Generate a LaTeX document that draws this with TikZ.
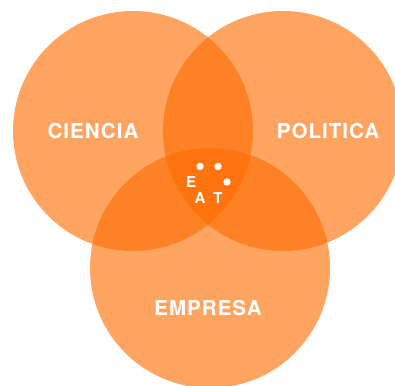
\documentclass[tikz,border=0pt]{standalone}
\usepackage{fontspec}
\usepackage{xcolor}
\usepackage{tikz}
\usetikzlibrary{calc}
\newfontfamily\labelfont{TeX Gyre Heros}[LetterSpace=5]
\newfontfamily\logofont{TeX Gyre Heros}
\definecolor{eatorange}{RGB}{255,108,0}

\begin{document}
\begin{tikzpicture}[
		x = 1pt, y = -1pt,
		area/.style  = {circle, minimum size=240pt, inner sep=0pt,
			fill=eatorange, fill opacity=0.62, text opacity=1},
		field/.style = {text=white, font=\labelfont\bfseries\fontsize{20.5}{20.5}\selectfont},
		letter/.style = {text=white, inner sep=0pt, font=\logofont\bfseries\fontsize{15}{15}\selectfont},
		dot/.style    = {circle, fill=white, inner sep=0pt, minimum size=7.4pt}
	]
	\useasboundingbox (0,0) rectangle (395,385);
	\clip (0,0) rectangle (395,385);
	% the three circles
	\node [area] (ciencia)  at (133,131) {};
	\node [area] (politica) at (283,131) {};
	\node [area] (empresa)  at (210,268) {};
	% labels
	\node [field] (ciencialabel)  at (93,131)  {CIENCIA};
	\node [field] (politicalabel) at (328,131) {POLITICA};
	\node [field] (empresalabel)  at (208,308) {EMPRESA};
	% logo in the middle
	\coordinate (logo) at (209,182);
	\foreach \ang/\name in {0/one, 60/two, 120/three}
		\node [dot] (dot\name) at ($(logo)+(\ang:18pt)$) {};
	\foreach \ang/\txt in {180/E, 240/A, 300/T}
		\node [letter] (logo\txt) at ($(logo)+(\ang:18pt)$) {\txt};
\end{tikzpicture}
\end{document}
